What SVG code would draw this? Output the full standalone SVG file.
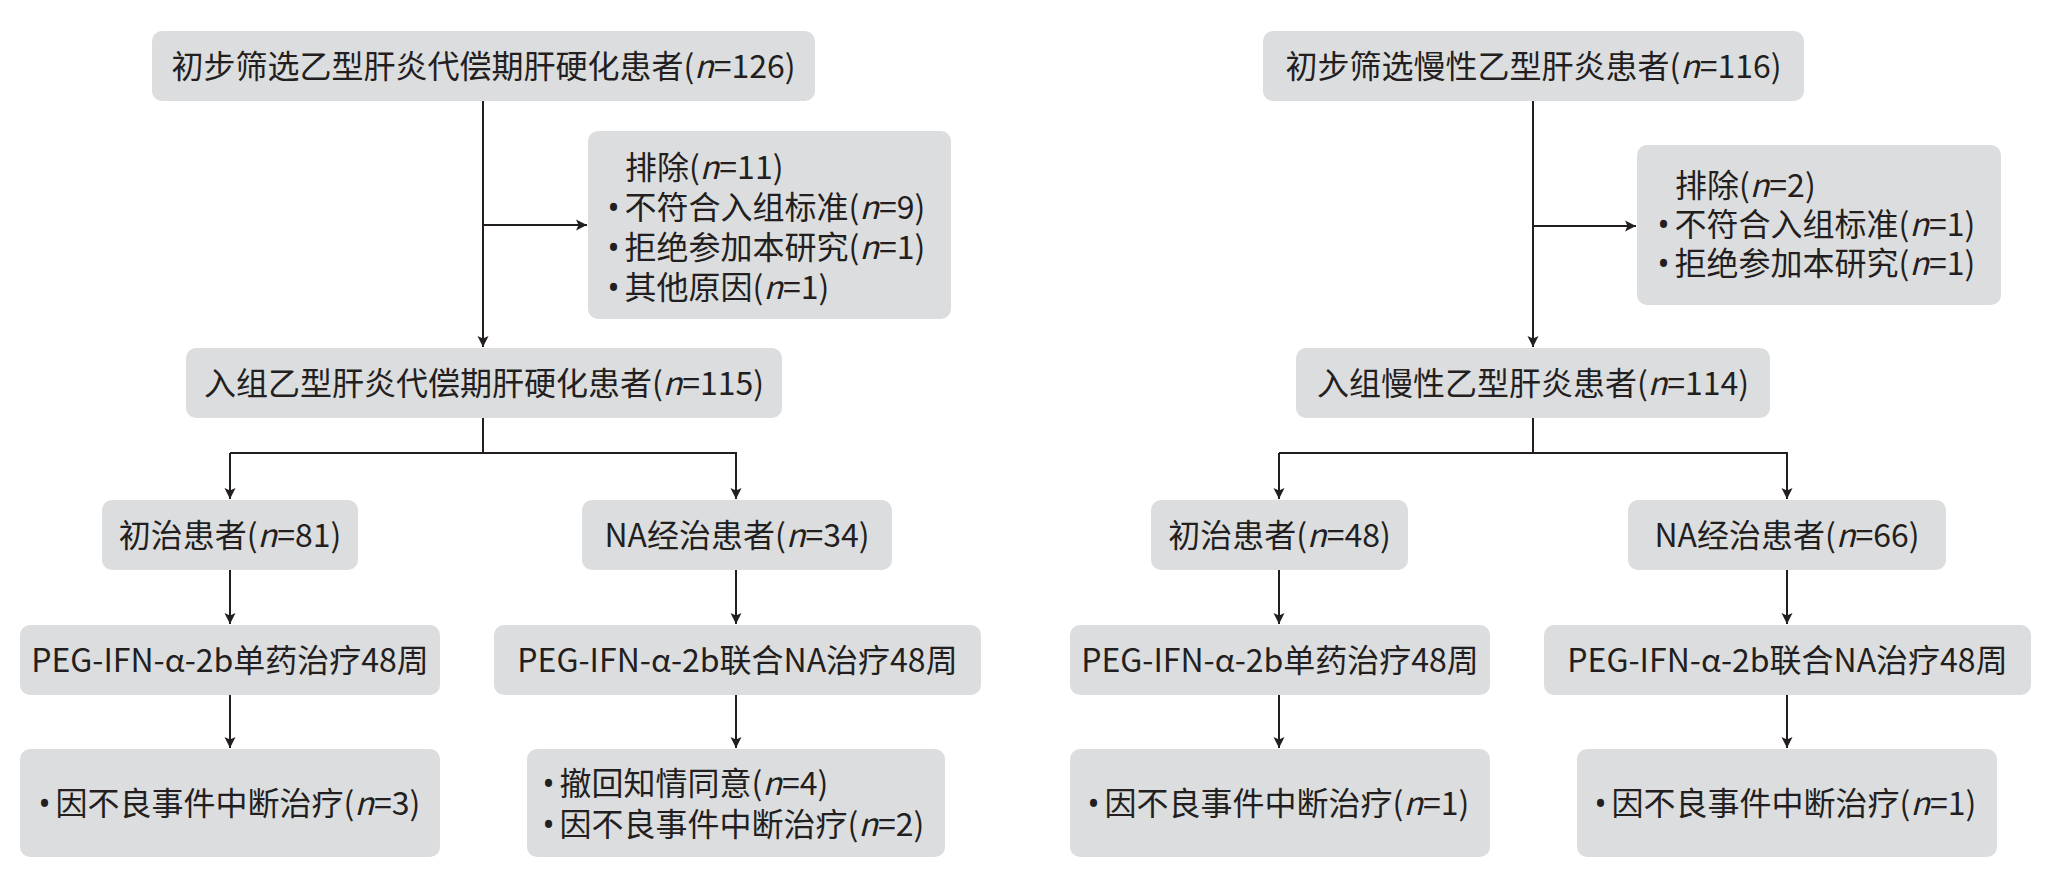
<svg xmlns="http://www.w3.org/2000/svg" width="2049" height="886" viewBox="0 0 2049 886">
<style>
.box{fill:#dcdddf}
text{font-family:"Noto Sans CJK SC","Noto Sans",sans-serif;font-size:32px;fill:#231f20}
.c{text-anchor:middle}
.i{font-style:italic}
.b{font-family:"Noto Sans",sans-serif}
.conn{stroke:#231f20;stroke-width:2;fill:none}
</style>
<defs>
<marker id="ah" markerUnits="userSpaceOnUse" markerWidth="12" markerHeight="12" viewBox="0 0 12 12" refX="11" refY="6" orient="auto">
<path d="M0,0.5 L11,6 L0,11.5 L2.5,6 Z" fill="#231f20"/>
</marker>
</defs>
<rect width="2049" height="886" fill="#ffffff"/>
<g id="connectors">
<line class="conn" x1="483" y1="101" x2="483" y2="347" marker-end="url(#ah)"/>
<line class="conn" x1="483" y1="225" x2="587" y2="225" marker-end="url(#ah)"/>
<polyline class="conn" points="483,418 483,453"/>
<polyline class="conn" points="230,453 736,453 736,499" marker-end="url(#ah)"/>
<line class="conn" x1="230" y1="453" x2="230" y2="499" marker-end="url(#ah)"/>
<line class="conn" x1="230" y1="570" x2="230" y2="624" marker-end="url(#ah)"/>
<line class="conn" x1="230" y1="695" x2="230" y2="748" marker-end="url(#ah)"/>
<line class="conn" x1="736" y1="570" x2="736" y2="624" marker-end="url(#ah)"/>
<line class="conn" x1="736" y1="695" x2="736" y2="748" marker-end="url(#ah)"/>
<line class="conn" x1="1533" y1="101" x2="1533" y2="347" marker-end="url(#ah)"/>
<line class="conn" x1="1533" y1="226" x2="1636" y2="226" marker-end="url(#ah)"/>
<polyline class="conn" points="1533,418 1533,453"/>
<polyline class="conn" points="1279,453 1787,453 1787,499" marker-end="url(#ah)"/>
<line class="conn" x1="1279" y1="453" x2="1279" y2="499" marker-end="url(#ah)"/>
<line class="conn" x1="1279" y1="570" x2="1279" y2="624" marker-end="url(#ah)"/>
<line class="conn" x1="1279" y1="695" x2="1279" y2="748" marker-end="url(#ah)"/>
<line class="conn" x1="1787" y1="570" x2="1787" y2="624" marker-end="url(#ah)"/>
<line class="conn" x1="1787" y1="695" x2="1787" y2="748" marker-end="url(#ah)"/>
</g>
<g id="L-screen"><rect class="box" x="152" y="31" width="663" height="70" rx="10"/><text class="c" x="483.5" y="78">初步筛选乙型肝炎代偿期肝硬化患者(<tspan class="i">n</tspan>=126)</text></g>
<g id="L-exclude"><rect class="box" x="588" y="131" width="363" height="188" rx="10"/>
<text x="625" y="179">排除(<tspan class="i">n</tspan>=11)</text>
<text x="607.5" y="218.5"><tspan class="b">•</tspan><tspan dx="5">不符合入组标准(<tspan class="i">n</tspan>=9)</tspan></text>
<text x="607.5" y="258.5"><tspan class="b">•</tspan><tspan dx="5">拒绝参加本研究(<tspan class="i">n</tspan>=1)</tspan></text>
<text x="607.5" y="298.5"><tspan class="b">•</tspan><tspan dx="5">其他原因(<tspan class="i">n</tspan>=1)</tspan></text></g>
<g id="L-enrolled"><rect class="box" x="186" y="348" width="596" height="70" rx="10"/><text class="c" x="484" y="395">入组乙型肝炎代偿期肝硬化患者(<tspan class="i">n</tspan>=115)</text></g>
<g id="L-naive"><rect class="box" x="102" y="500" width="256" height="70" rx="10"/><text class="c" x="230" y="547">初治患者(<tspan class="i">n</tspan>=81)</text></g>
<g id="L-experienced"><rect class="box" x="582" y="500" width="310" height="70" rx="10"/><text class="c" x="737" y="547">NA经治患者(<tspan class="i">n</tspan>=34)</text></g>
<g id="L-mono"><rect class="box" x="20" y="625" width="420" height="70" rx="10"/><text class="c" x="230" y="672">PEG-IFN-α-2b单药治疗48周</text></g>
<g id="L-combo"><rect class="box" x="494" y="625" width="487" height="70" rx="10"/><text class="c" x="737.5" y="672">PEG-IFN-α-2b联合NA治疗48周</text></g>
<g id="L-mono-out"><rect class="box" x="20" y="749" width="420" height="108" rx="10"/>
<text x="38.5" y="815"><tspan class="b">•</tspan><tspan dx="5">因不良事件中断治疗(<tspan class="i">n</tspan>=3)</tspan></text></g>
<g id="L-combo-out"><rect class="box" x="527" y="749" width="418" height="108" rx="10"/>
<text x="542.5" y="795"><tspan class="b">•</tspan><tspan dx="5">撤回知情同意(<tspan class="i">n</tspan>=4)</tspan></text>
<text x="542.5" y="836"><tspan class="b">•</tspan><tspan dx="5">因不良事件中断治疗(<tspan class="i">n</tspan>=2)</tspan></text></g>
<g id="R-screen"><rect class="box" x="1263" y="31" width="541" height="70" rx="10"/><text class="c" x="1533.5" y="78">初步筛选慢性乙型肝炎患者(<tspan class="i">n</tspan>=116)</text></g>
<g id="R-exclude"><rect class="box" x="1637" y="145" width="364" height="160" rx="10"/>
<text x="1675" y="197">排除(<tspan class="i">n</tspan>=2)</text>
<text x="1657.5" y="236"><tspan class="b">•</tspan><tspan dx="5">不符合入组标准(<tspan class="i">n</tspan>=1)</tspan></text>
<text x="1657.5" y="275"><tspan class="b">•</tspan><tspan dx="5">拒绝参加本研究(<tspan class="i">n</tspan>=1)</tspan></text></g>
<g id="R-enrolled"><rect class="box" x="1296" y="348" width="474" height="70" rx="10"/><text class="c" x="1533" y="395">入组慢性乙型肝炎患者(<tspan class="i">n</tspan>=114)</text></g>
<g id="R-naive"><rect class="box" x="1151" y="500" width="257" height="70" rx="10"/><text class="c" x="1279.5" y="547">初治患者(<tspan class="i">n</tspan>=48)</text></g>
<g id="R-experienced"><rect class="box" x="1628" y="500" width="318" height="70" rx="10"/><text class="c" x="1787" y="547">NA经治患者(<tspan class="i">n</tspan>=66)</text></g>
<g id="R-mono"><rect class="box" x="1070" y="625" width="420" height="70" rx="10"/><text class="c" x="1280" y="672">PEG-IFN-α-2b单药治疗48周</text></g>
<g id="R-combo"><rect class="box" x="1544" y="625" width="487" height="70" rx="10"/><text class="c" x="1787.5" y="672">PEG-IFN-α-2b联合NA治疗48周</text></g>
<g id="R-mono-out"><rect class="box" x="1070" y="749" width="420" height="108" rx="10"/>
<text x="1087.5" y="815"><tspan class="b">•</tspan><tspan dx="5">因不良事件中断治疗(<tspan class="i">n</tspan>=1)</tspan></text></g>
<g id="R-combo-out"><rect class="box" x="1577" y="749" width="420" height="108" rx="10"/>
<text x="1594.5" y="815"><tspan class="b">•</tspan><tspan dx="5">因不良事件中断治疗(<tspan class="i">n</tspan>=1)</tspan></text></g>
</svg>
